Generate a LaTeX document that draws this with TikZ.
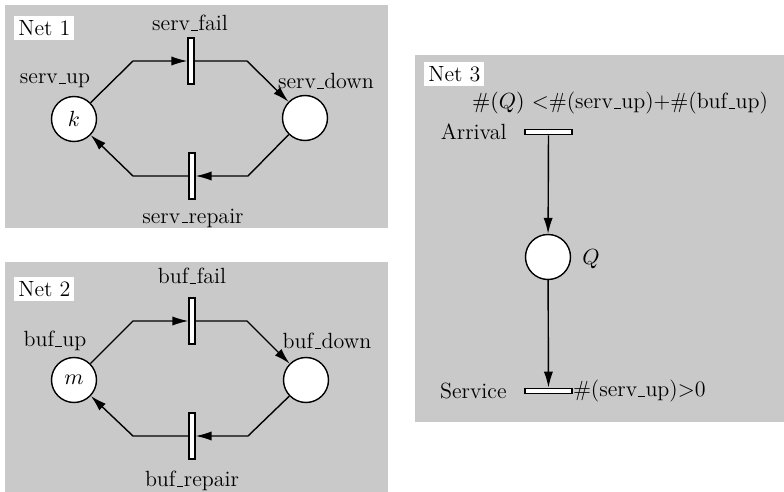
\documentclass[tikz,border=0pt]{standalone}
\usetikzlibrary{arrows.meta}
\newcommand{\uscore}{\leavevmode\kern.06em\vbox{\hrule width.3em height 0.45pt}\kern.02em}
\begin{document}
\begin{tikzpicture}[x=0.5pt,y=-0.5pt,
  font=\fontsize{11}{13}\selectfont,
  panel/.style={fill=black!21,draw=none},
  netlabel/.style={fill=white,inner sep=2pt,anchor=north west},
  place/.style={circle,draw,fill=white,line width=0.7pt,minimum size=22.5pt,inner sep=0pt},
  vtrans/.style={rectangle,draw,fill=white,line width=0.6pt,minimum width=3pt,minimum height=23pt,inner sep=0pt},
  htrans/.style={rectangle,draw,fill=white,line width=0.6pt,minimum width=23.5pt,minimum height=2.8pt,inner sep=0pt},
  arc/.style={line width=0.7pt,-{Latex[length=8pt,width=4.6pt]}},
  lbl/.style={inner sep=0pt}]
\useasboundingbox (0,0) rectangle (784,492);
% panels
\fill[panel] (5,5) rectangle (388,228);
\fill[panel] (5,262) rectangle (388,492);
\fill[panel] (415,55) rectangle (784,422);

% ---------- Net 1
\node[netlabel] (n1) at (14,16) {Net 1};
\node[place] (sup) at (74,119) {$k$};
\node[place] (sdown) at (305,118) {};
\node[vtrans] (sfail) at (191,61) {};
\node[vtrans] (srep) at (192,176) {};
\node[lbl] (lsfail) at (190,23) {serv\uscore fail};
\node[lbl] (lsup) at (55,81) {serv\uscore up};
\node[lbl] (lsdown) at (326,81) {serv\uscore down};
\node[lbl] (lsrep) at (193,218) {serv\uscore repair};
\coordinate (a1) at (133,61);
\coordinate (a2) at (247,61);
\coordinate (a3) at (248,176);
\coordinate (a4) at (133,176);
\draw[arc] (sup) -- (a1) -- (sfail);
\draw[arc] (sfail) -- (a2) -- (sdown);
\draw[arc] (sdown) -- (a3) -- (srep);
\draw[arc] (srep) -- (a4) -- (sup);

% ---------- Net 2
\node[netlabel] (n2) at (14,277) {Net 2};
\node[place] (bup) at (74,380) {$m$};
\node[place] (bdown) at (306,380) {};
\node[vtrans] (bfail) at (192,321) {};
\node[vtrans] (brep) at (192,436) {};
\node[lbl] (lbfail) at (192,276) {buf\uscore fail};
\node[lbl] (lbup) at (55,341) {buf\uscore up};
\node[lbl] (lbdown) at (327,341) {buf\uscore down};
\node[lbl] (lbrep) at (192,481) {buf\uscore repair};
\coordinate (b1) at (133,321);
\coordinate (b2) at (247,321);
\coordinate (b3) at (248,436);
\coordinate (b4) at (133,436);
\draw[arc] (bup) -- (b1) -- (bfail);
\draw[arc] (bfail) -- (b2) -- (bdown);
\draw[arc] (bdown) -- (b3) -- (brep);
\draw[arc] (brep) -- (b4) -- (bup);

% ---------- Net 3
\node[netlabel] (n3) at (424,62) {Net 3};
\node[lbl] (guard1) at (620,103) {$\#(Q)$ $<$\#(serv\uscore up)+\#(buf\uscore up)};
\node[htrans] (arr) at (548.5,132) {};
\node[lbl,anchor=east] (larr) at (507,132) {Arrival};
\node[place] (q) at (548,257) {};
\node[lbl,anchor=west] (lq) at (582,259) {$Q$};
\node[htrans] (srv) at (548.5,391) {};
\node[lbl,anchor=east] (lsrv) at (507,391) {Service};
\node[lbl,anchor=west] (guard2) at (srv.east) {\#(serv\uscore up)$>$0};
\draw[arc] (arr) -- (q);
\draw[arc] (q) -- (srv);
\end{tikzpicture}
\end{document}
